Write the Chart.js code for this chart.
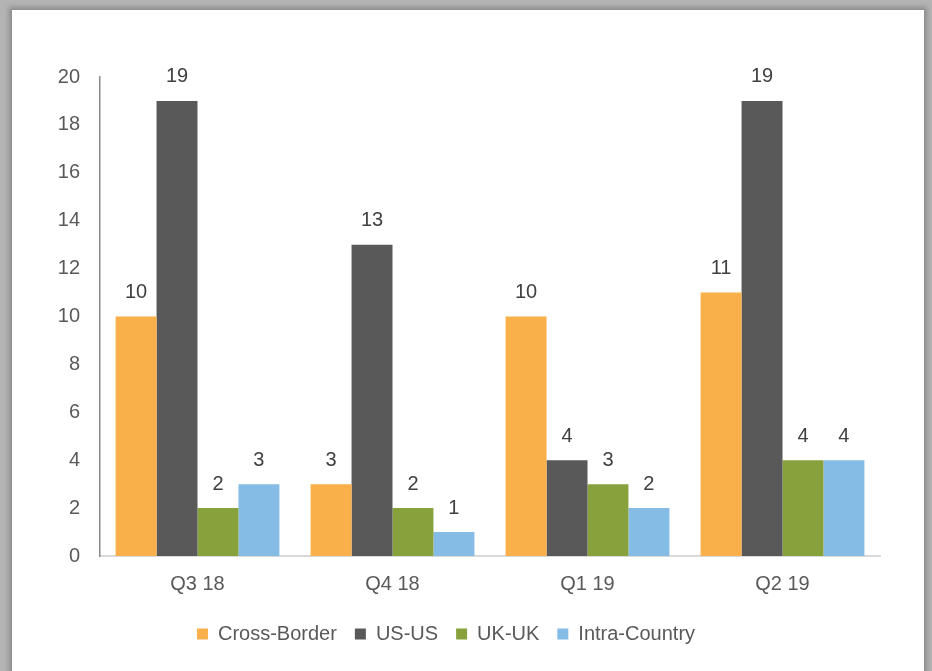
<!DOCTYPE html>
<html>
<head>
<meta charset="utf-8">
<script src="https://cdn.jsdelivr.net/npm/chart.js@4.4.1/dist/chart.umd.min.js"></script>
<style>
  html, body { margin: 0; padding: 0; }
  body { width: 932px; height: 671px; background: #b4b4b4; overflow: hidden; position: relative; }
  .frame {
    position: absolute; left: 12px; top: 10px; width: 912px; height: 670px;
    background: #fff; box-shadow: 0 0 5px 3px #8c8c8c;
  }
  .chart-box { position: absolute; left: 0; top: 0; width: 912px; height: 661px; }
</style>
</head>
<body>
<div class="frame">
  <div class="chart-box"><canvas id="myChart"></canvas></div>
</div>
<script>
// Data
const quarters = ['Q3 18', 'Q4 18', 'Q1 19', 'Q2 19'];
const crossBorder = [10, 3, 10, 11];
const usUs = [19, 13, 4, 19];
const ukUk = [2, 2, 3, 4];
const intraCountry = [3, 1, 2, 4];
const yTicks = [0, 2, 4, 6, 8, 10, 12, 14, 16, 18, 20];

const FONT = "'Liberation Sans', Arial, sans-serif";

// Draws the value above each bar (no datalabels plugin available offline)
const valueLabels = {
  id: 'valueLabels',
  afterDatasetsDraw(chart) {
    const ctx = chart.ctx;
    ctx.save();
    ctx.font = '20px ' + FONT;
    ctx.fillStyle = '#404040';
    ctx.textAlign = 'center';
    ctx.textBaseline = 'middle';
    chart.data.datasets.forEach((ds, i) => {
      chart.getDatasetMeta(i).data.forEach((bar, j) => {
        ctx.fillText(ds.data[j], bar.x, bar.y - 24);
      });
    });
    ctx.restore();
  }
};

const data = {
  labels: quarters,
  datasets: [
    { label: 'Cross-Border', data: crossBorder, backgroundColor: '#F9B04A' },
    { label: 'US-US', data: usUs, backgroundColor: '#595959' },
    { label: 'UK-UK', data: ukUk, backgroundColor: '#87A23D' },
    { label: 'Intra-Country', data: intraCountry, backgroundColor: '#85BCE6' }
  ]
};

const config = {
  type: 'bar',
  data: data,
  options: {
    responsive: true,
    maintainAspectRatio: false,
    animation: false,
    datasets: {
      bar: { categoryPercentage: 0.84, barPercentage: 1.0 }
    },
    plugins: {
      legend: {
        position: 'bottom',
        labels: {
          boxWidth: 11,
          boxHeight: 11,
          padding: 18,
          color: '#595959',
          font: { size: 20, family: FONT }
        }
      },
      tooltip: { enabled: false }
    },
    scales: {
      x: {
        grid: { display: false, drawTicks: false },
        border: { color: '#d9d9d9', width: 2 },
        ticks: { color: '#595959', padding: 16, font: { size: 20, family: FONT } },
        afterFit: s => { s.height = 50; }
      },
      y: {
        min: 0,
        max: 20,
        afterBuildTicks: s => { s.ticks = yTicks.map(v => ({ value: v })); },
        grid: { display: false, drawTicks: false },
        border: { color: '#8a8a8a', width: 1.5 },
        ticks: { color: '#595959', padding: 20, font: { size: 20, family: FONT } },
        afterFit: s => { s.width = 88; }
      }
    },
    layout: {
      padding: { top: 67, bottom: 17, left: 0, right: 44 }
    }
  },
  plugins: [valueLabels]
};

const ctx = document.getElementById('myChart').getContext('2d');
const myChart = new Chart(ctx, config);
</script>
</body>
</html>
